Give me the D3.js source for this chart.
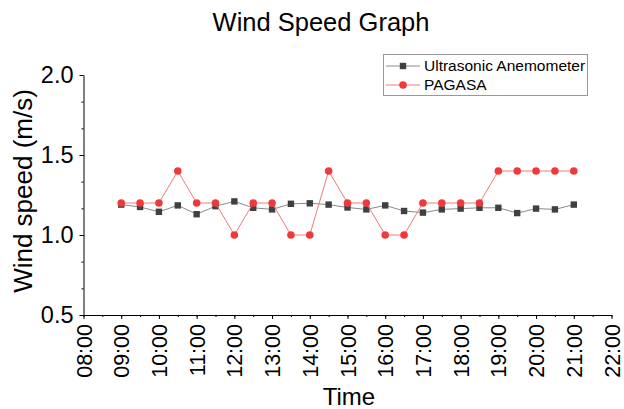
<!DOCTYPE html>
<html>
<head>
<meta charset="utf-8">
<script src="https://cdn.jsdelivr.net/npm/d3@7"></script>
<style>
  body { margin: 0; background: #fff; }
  svg { font-family: "Liberation Sans", Arial, sans-serif; }
</style>
</head>
<body>
<svg width="624" height="409"></svg>
<script>
// times in hours, every half hour from 09:00 to 21:00
const TIMES = [9, 9.5, 10, 10.5, 11, 11.5, 12, 12.5, 13, 13.5, 14, 14.5, 15,
  15.5, 16, 16.5, 17, 17.5, 18, 18.5, 19, 19.5, 20, 20.5, 21];
const ULTRASONIC = [1.19, 1.175, 1.145, 1.185, 1.13, 1.18, 1.21, 1.17, 1.16, 1.195, 1.198, 1.19, 1.172,
  1.16, 1.185, 1.15, 1.14, 1.16, 1.165, 1.17, 1.17, 1.137, 1.165, 1.16, 1.19];
const PAGASA = [1.2, 1.2, 1.2, 1.4, 1.2, 1.2, 1.0, 1.2, 1.2, 1.0, 1.0, 1.4, 1.2,
  1.2, 1.0, 1.0, 1.2, 1.2, 1.2, 1.2, 1.4, 1.4, 1.4, 1.4, 1.4];
const X_TICKS = [8, 9, 10, 11, 12, 13, 14, 15, 16, 17, 18, 19, 20, 21, 22];
const Y_TICKS = [0.5, 1.0, 1.5, 2.0];

const svg = d3.select("svg");

const x = d3.scaleLinear().domain([8, 22]).range([83.5, 611.5]);
const y = d3.scaleLinear().domain([0.5, 2.0]).range([315, 75]);

const fmtTime = (h) => String(h).padStart(2, "0") + ":00";

// minor ticks
const xMinor = d3.range(8, 22.01, 0.5);
const yMinor = d3.range(0, 10).map((i) => 0.5 + i / 6);

svg.append("g")
  .attr("transform", "translate(0,315)")
  .call(d3.axisBottom(x).tickValues(xMinor).tickSize(2).tickFormat(""))
  .call((g) => g.select(".domain").remove());
svg.append("g")
  .attr("transform", "translate(83.5,0)")
  .call(d3.axisLeft(y).tickValues(yMinor).tickSize(2).tickFormat(""))
  .call((g) => g.select(".domain").remove());

const xAxis = svg.append("g")
  .attr("transform", "translate(0,315)")
  .call(d3.axisBottom(x).tickValues(X_TICKS).tickSize(4).tickSizeOuter(0).tickFormat(fmtTime));
xAxis.selectAll("text")
  .attr("font-size", 21.5)
  .attr("fill", "#000")
  .attr("transform", "rotate(-90)")
  .attr("x", -9)
  .attr("y", 0)
  .attr("dy", "0.35em")
  .attr("text-anchor", "end");

const yAxis = svg.append("g")
  .attr("transform", "translate(83.5,0)")
  .call(d3.axisLeft(y).tickValues(Y_TICKS).tickSize(4).tickSizeOuter(0).tickFormat(d3.format(".1f")));
yAxis.selectAll("text")
  .attr("font-size", 23.5)
  .attr("fill", "#000")
  .attr("x", -10);

svg.selectAll(".tick line, .domain").attr("stroke", "#000").attr("stroke-width", 1);

// series
const line = (vals) => d3.line().x((d, i) => x(TIMES[i])).y((d) => y(d))(vals);

svg.append("path")
  .attr("d", line(ULTRASONIC))
  .attr("fill", "none")
  .attr("stroke", "#8a8a8a")
  .attr("stroke-width", 1);
svg.selectAll(".sq")
  .data(ULTRASONIC)
  .enter()
  .append("rect")
  .attr("x", (d, i) => x(TIMES[i]) - 3.2)
  .attr("y", (d) => y(d) - 3.2)
  .attr("width", 6.4)
  .attr("height", 6.4)
  .attr("fill", "#404040");

svg.append("path")
  .attr("d", line(PAGASA))
  .attr("fill", "none")
  .attr("stroke", "#f07a7a")
  .attr("stroke-width", 1);
svg.selectAll(".dot")
  .data(PAGASA)
  .enter()
  .append("circle")
  .attr("cx", (d, i) => x(TIMES[i]))
  .attr("cy", (d) => y(d))
  .attr("r", 3.8)
  .attr("fill", "#f03a3a");

// titles
svg.append("text")
  .attr("x", 321)
  .attr("y", 31)
  .attr("text-anchor", "middle")
  .attr("font-size", 25.5)
  .text("Wind Speed Graph");

svg.append("text")
  .attr("x", 349)
  .attr("y", 405)
  .attr("text-anchor", "middle")
  .attr("font-size", 24)
  .text("Time");

svg.append("text")
  .attr("transform", "translate(32,191) rotate(-90)")
  .attr("text-anchor", "middle")
  .attr("font-size", 26)
  .text("Wind speed (m/s)");

// legend
const legend = svg.append("g");
legend.append("rect")
  .attr("x", 383.5)
  .attr("y", 54.5)
  .attr("width", 204)
  .attr("height", 41)
  .attr("fill", "#fff")
  .attr("stroke", "#999");

const legendRows = [
  { name: "Ultrasonic Anemometer", color: "#8a8a8a", marker: "square", y: 66 },
  { name: "PAGASA", color: "#f07a7a", marker: "circle", y: 85 },
];
legendRows.forEach((r) => {
  legend.append("line")
    .attr("x1", 386).attr("x2", 420)
    .attr("y1", r.y).attr("y2", r.y)
    .attr("stroke", r.color);
  if (r.marker === "square") {
    legend.append("rect")
      .attr("x", 403 - 3.2).attr("y", r.y - 3.2)
      .attr("width", 6.4).attr("height", 6.4)
      .attr("fill", "#404040");
  } else {
    legend.append("circle")
      .attr("cx", 403).attr("cy", r.y).attr("r", 3.8)
      .attr("fill", "#f03a3a");
  }
  legend.append("text")
    .attr("x", 424)
    .attr("y", r.y)
    .attr("dy", "0.35em")
    .attr("font-size", 15.5)
    .text(r.name);
});
</script>
</body>
</html>
